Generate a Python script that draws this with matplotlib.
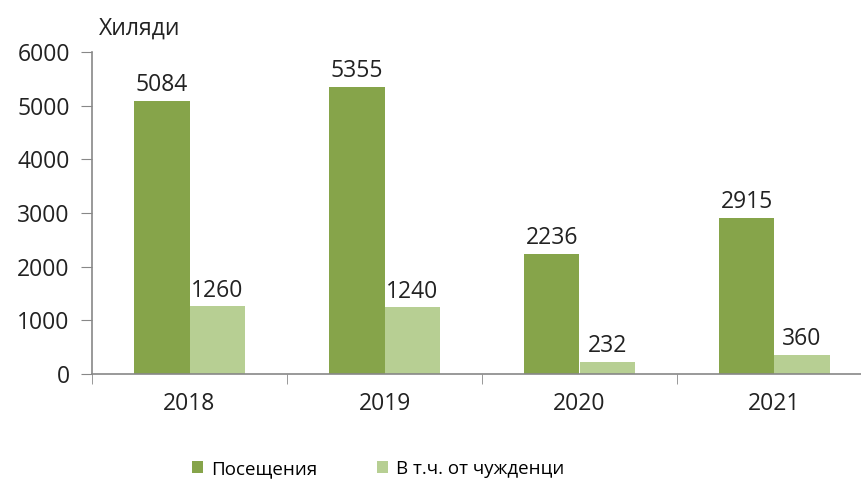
import matplotlib
matplotlib.use("Agg")
import matplotlib.pyplot as plt
import numpy as np

years = ["2018", "2019", "2020", "2021"]
visits = [5084, 5355, 2236, 2915]
foreigners = [1260, 1240, 232, 360]
series_names = ["Посещения", "В т.ч. от чужденци"]
unit_label = "Хиляди"

plt.rcParams['font.family'] = ['Open Sans', 'DejaVu Sans']

W, H = 861, 479
fig = plt.figure(figsize=(W/100, H/100), dpi=100)
left, right = 92, 872
bottom, top = 374, 52
ax = fig.add_axes([left/W, 1 - bottom/H, (right-left)/W, (bottom-top)/H])

dark = "#86A44A"
light = "#B7CF93"
x = np.arange(len(years))
bw = 0.283
b1 = ax.bar(x - bw/2, visits, bw, color=dark, label=series_names[0])
b2 = ax.bar(x + bw/2, foreigners, bw, color=light, label=series_names[1])
for bars in (b1, b2):
    for r in bars:
        ax.text(r.get_x() + r.get_width()/2, r.get_height() + 70, f"{int(r.get_height())}",
                ha="center", va="bottom", fontsize=16.5, color="#222222")

ax.set_xlim(-0.5, len(years) - 0.5)
ax.set_ylim(0, 6000)
ax.set_yticks(range(0, 6001, 1000))
ax.set_xticks(x)
ax.set_xticklabels(years)
ax.set_xticks(np.arange(-0.5, len(years), 1), minor=True)
ax.tick_params(axis='x', which='major', length=0, pad=13, labelsize=16.5, colors="#222222")
ax.tick_params(axis='x', which='minor', length=7, color="#888888", direction="out")
ax.tick_params(axis='y', length=8, color="#888888", labelsize=16.5, labelcolor="#222222", pad=8)
for s in ("top", "right"):
    ax.spines[s].set_visible(False)
for s in ("left", "bottom"):
    ax.spines[s].set_color("#888888")
    ax.spines[s].set_linewidth(1.2)

fig.text(99/W, 1 - 29/H, unit_label, fontsize=16.5, ha="left", va="center", color="#222222")

leg = fig.legend(handles=[b1, b2], labels=series_names, loc="center", bbox_to_anchor=(378/W, 1 - 469/H),
                 ncol=2, frameon=False, fontsize=13.5, handlelength=0.6, handleheight=0.6,
                 columnspacing=3.2, handletextpad=0.4)

fig.savefig("out.png", dpi=100)
